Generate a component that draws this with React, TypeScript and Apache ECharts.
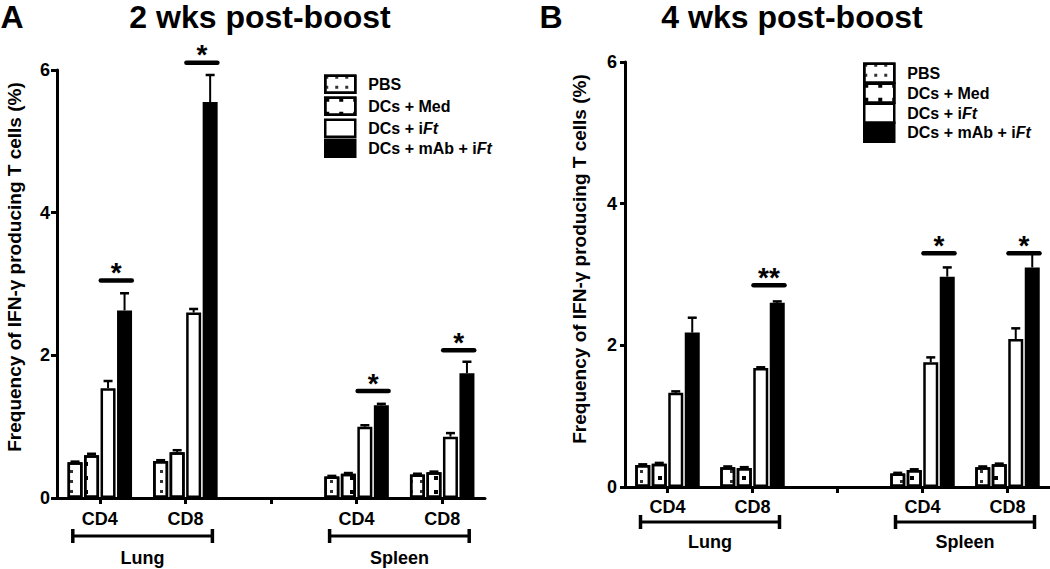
import React, { useEffect, useRef } from 'react';
import * as echarts from 'echarts';

const FONT = '"Liberation Sans", Arial, Helvetica, sans-serif';

const categories = ['CD4', 'CD8', '', 'CD4', 'CD8'];
const tissueLabels = ['Lung', 'Spleen'];
const tissueSpans = [[0, 1], [3, 4]];
const treatments = ['PBS', 'DCs + Med', 'DCs + iFt', 'DCs + mAb + iFt'];
const yMin = 0;
const yMax = 6;
const yInterval = 2;

// Panel A: 2 wks post-boost
const pbsA = [0.5, 0.52, null, 0.3, 0.33];
const medA = [0.6, 0.64, null, 0.34, 0.36];
const iftA = [1.54, 2.6, null, 1.0, 0.86];
const mabA = [2.63, 5.55, null, 1.3, 1.75];
const pbsAErr = [0.01, 0.01, null, 0.01, 0.01];
const medAErr = [0.02, 0.03, null, 0.01, 0.01];
const iftAErr = [0.1, 0.05, null, 0.02, 0.05];
const mabAErr = [0.24, 0.38, null, 0.02, 0.16];
const sigCatA = [0, 1, 3, 4];
const sigYA = [3.05, 6.1, 1.5, 2.07];
const sigTextA = ['*', '*', '*', '*'];

// Panel B: 4 wks post-boost
const pbsB = [0.31, 0.28, null, 0.19, 0.28];
const medB = [0.33, 0.27, null, 0.24, 0.32];
const iftB = [1.33, 1.68, null, 1.76, 2.09];
const mabB = [2.18, 2.6, null, 2.97, 3.1];
const pbsBErr = [0.01, 0.01, null, 0.01, 0.01];
const medBErr = [0.01, 0.01, null, 0.01, 0.01];
const iftBErr = [0.02, 0.01, null, 0.07, 0.15];
const mabBErr = [0.21, 0.02, null, 0.13, 0.2];
const sigCatB = [1, 3, 4];
const sigYB = [2.85, 3.3, 3.3];
const sigTextB = ['**', '*', '*'];

const BAR_W = 15;
const BAR_STEP = 16.5;

const fills = ['#fff', '#fff', '#fff', '#000'];
const decals: any[] = [
  { symbol: 'rect', symbolSize: 1, color: '#333', dashArrayX: [3, 7], dashArrayY: [3, 7] },
  { symbol: 'rect', symbolSize: 1, color: '#000', dashArrayX: [4, 10], dashArrayY: [4, 10] },
  'none',
  'none',
];

function buildPanel(
  idx: number,
  vals: (number | null)[][],
  errs: (number | null)[][],
  sigCat: number[],
  sigY: number[],
  sigText: string[],
  bracketOff: number,
  labelOff: number
) {
  const series: any[] = [];
  vals.forEach((v, g) => {
    series.push({
      type: 'bar',
      name: treatments[g],
      xAxisIndex: idx,
      yAxisIndex: idx,
      data: v.map((x) => (x == null ? '-' : x)),
      barWidth: BAR_W,
      barGap: '10%',
      z: 3,
      itemStyle: {
        color: fills[g],
        borderColor: '#000',
        borderWidth: 2.5,
        decal: decals[g] === 'none' ? undefined : decals[g],
      },
    });
  });
  const errData: number[][] = [];
  vals.forEach((v, g) => {
    v.forEach((x, c) => {
      if (x != null) errData.push([c, x, g, errs[g][c] as number]);
    });
  });
  series.push({
    type: 'custom',
    xAxisIndex: idx,
    yAxisIndex: idx,
    data: errData,
    encode: { x: 0, y: 1 },
    z: 2,
    clip: false,
    silent: true,
    renderItem: (params: any, api: any) => {
      const c = api.value(0);
      const v = api.value(1);
      const g = api.value(2);
      const e = api.value(3);
      const p0 = api.coord([c, v]);
      const p1 = api.coord([c, v + e]);
      const x = p0[0] + (g - 1.5) * BAR_STEP;
      return {
        type: 'group',
        children: [
          { type: 'line', shape: { x1: x, y1: p0[1], x2: x, y2: p1[1] }, style: { stroke: '#000', lineWidth: 2 } },
          { type: 'line', shape: { x1: x - 4.5, y1: p1[1], x2: x + 4.5, y2: p1[1] }, style: { stroke: '#000', lineWidth: 2.5 } },
        ],
      };
    },
  });
  series.push({
    type: 'custom',
    xAxisIndex: idx,
    yAxisIndex: idx,
    data: sigCat.map((c, i) => [c, sigY[i]]),
    encode: { x: 0, y: 1 },
    z: 4,
    clip: false,
    silent: true,
    renderItem: (params: any, api: any) => {
      const p = api.coord([api.value(0), api.value(1)]);
      const x0 = p[0] + 1;
      const x1 = p[0] + 32;
      return {
        type: 'group',
        children: [
          { type: 'line', shape: { x1: x0, y1: p[1], x2: x1, y2: p[1] }, style: { stroke: '#000', lineWidth: 4.5, lineCap: 'round' } },
          {
            type: 'text',
            x: (x0 + x1) / 2,
            y: p[1] - 8,
            style: { text: sigText[params.dataIndex], fill: '#000', font: `bold 28px ${FONT}`, textAlign: 'center', textVerticalAlign: 'middle' },
          },
        ],
      };
    },
  });
  series.push({
    type: 'custom',
    xAxisIndex: idx,
    yAxisIndex: idx,
    data: tissueSpans.map((s) => [s[0], s[1]]),
    encode: { x: 0, y: 1 },
    z: 4,
    clip: false,
    silent: true,
    renderItem: (params: any, api: any) => {
      const pa = api.coord([api.value(0), 0]);
      const pb = api.coord([api.value(1), 0]);
      const y = pa[1] + bracketOff;
      const x0 = pa[0] - 27;
      const x1 = pb[0] + 27;
      return {
        type: 'group',
        children: [
          { type: 'line', shape: { x1: x0, y1: y, x2: x1, y2: y }, style: { stroke: '#000', lineWidth: 3 } },
          { type: 'line', shape: { x1: x0, y1: y - 7, x2: x0, y2: y + 7 }, style: { stroke: '#000', lineWidth: 3.5 } },
          { type: 'line', shape: { x1: x1, y1: y - 7, x2: x1, y2: y + 7 }, style: { stroke: '#000', lineWidth: 3.5 } },
          {
            type: 'text',
            x: (x0 + x1) / 2,
            y: pa[1] + labelOff,
            style: { text: tissueLabels[params.dataIndex], fill: '#000', font: `bold 18px ${FONT}`, textAlign: 'center', textVerticalAlign: 'middle' },
          },
        ],
      };
    },
  });
  return series;
}

export default function App() {
  const ref = useRef<HTMLDivElement>(null);
  useEffect(() => {
    if (!ref.current) return;
    const chart = echarts.init(ref.current, null, { renderer: 'svg' });
    const axisLine = { show: true, lineStyle: { color: '#000', width: 3 } };
    const xAxisBase = (gi: number, margin: number) => ({
      type: 'category',
      gridIndex: gi,
      data: categories,
      boundaryGap: true,
      axisLine,
      axisTick: { show: true, alignWithLabel: true, length: 6, lineStyle: { color: '#000', width: 3 } },
      axisLabel: { color: '#000', fontFamily: FONT, fontWeight: 'bold', fontSize: 18, margin, interval: 0 },
      splitLine: { show: false },
    });
    const yAxisBase = (gi: number, tickLen: number, margin: number) => ({
      type: 'value',
      gridIndex: gi,
      min: yMin,
      max: yMax,
      interval: yInterval,
      axisLine,
      axisTick: { show: true, length: tickLen, lineStyle: { color: '#000', width: 3 } },
      axisLabel: { color: '#000', fontFamily: FONT, fontWeight: 'bold', fontSize: 18, margin },
      splitLine: { show: false },
    });
    // one legend entry per component, so each row sits where the reference has it
    const legendItem = (name: string, left: number, centerY: number, h: number) => ({
      data: [name],
      orient: 'vertical',
      left,
      top: centerY - h / 2,
      itemWidth: 30,
      itemHeight: h,
      selectedMode: false,
      icon: 'rect',
      padding: 0,
      itemStyle: { borderColor: '#000', borderWidth: 2.5 },
      formatter: (n: string) => n.replace('iFt', 'i{it|Ft}'),
      textStyle: {
        color: '#000',
        fontFamily: FONT,
        fontWeight: 'bold',
        fontSize: 16,
        padding: [0, 0, 0, 8],
        rich: { it: { fontStyle: 'italic', fontWeight: 'bold', fontFamily: FONT, fontSize: 16, color: '#000' } },
      },
    });
    const legendRowsA = [83, 105, 127, 147];
    const legendRowsB = [72, 92, 112, 131];
    const legends = [
      ...treatments.map((t, i) => legendItem(t, 324, legendRowsA[i], 17)),
      ...treatments.map((t, i) => legendItem(t, 863, legendRowsB[i], 19)),
    ];
    const option: any = {
      animation: false,
      backgroundColor: '#fff',
      grid: [
        { left: 57, top: 70, width: 428, height: 428 },
        { left: 625, top: 62, width: 425, height: 425 },
      ],
      xAxis: [xAxisBase(0, 12), xAxisBase(1, 11)],
      yAxis: [yAxisBase(0, 6, 7), yAxisBase(1, 5, 8)],
      legend: legends,
      graphic: [
        { type: 'text', x: 12, y: 17, style: { text: 'A', fill: '#000', font: `bold 32px ${FONT}`, textAlign: 'center', textVerticalAlign: 'middle' } },
        { type: 'text', x: 260, y: 17, style: { text: '2 wks post-boost', fill: '#000', font: `bold 32px ${FONT}`, textAlign: 'center', textVerticalAlign: 'middle' } },
        { type: 'text', x: 551, y: 17, style: { text: 'B', fill: '#000', font: `bold 32px ${FONT}`, textAlign: 'center', textVerticalAlign: 'middle' } },
        { type: 'text', x: 792, y: 17, style: { text: '4 wks post-boost', fill: '#000', font: `bold 32px ${FONT}`, textAlign: 'center', textVerticalAlign: 'middle' } },
        {
          type: 'text', x: 14, y: 267, rotation: Math.PI / 2,
          style: { text: 'Frequency of IFN-γ producing T cells (%)', fill: '#000', font: `bold 19px ${FONT}`, textAlign: 'center', textVerticalAlign: 'middle' },
        },
        {
          type: 'text', x: 579, y: 259, rotation: Math.PI / 2,
          style: { text: 'Frequency of IFN-γ producing T cells (%)', fill: '#000', font: `bold 19px ${FONT}`, textAlign: 'center', textVerticalAlign: 'middle' },
        },
      ],
      series: [
        ...buildPanel(0, [pbsA, medA, iftA, mabA], [pbsAErr, medAErr, iftAErr, mabAErr], sigCatA, sigYA, sigTextA, 38, 60),
        ...buildPanel(1, [pbsB, medB, iftB, mabB], [pbsBErr, medBErr, iftBErr, mabBErr], sigCatB, sigYB, sigTextB, 35, 55),
      ],
    };
    chart.setOption(option);
    return () => chart.dispose();
  }, []);
  return <div ref={ref} style={{ position: 'fixed', left: 0, top: 0, width: 1050, height: 569, background: '#fff' }} />;
}
